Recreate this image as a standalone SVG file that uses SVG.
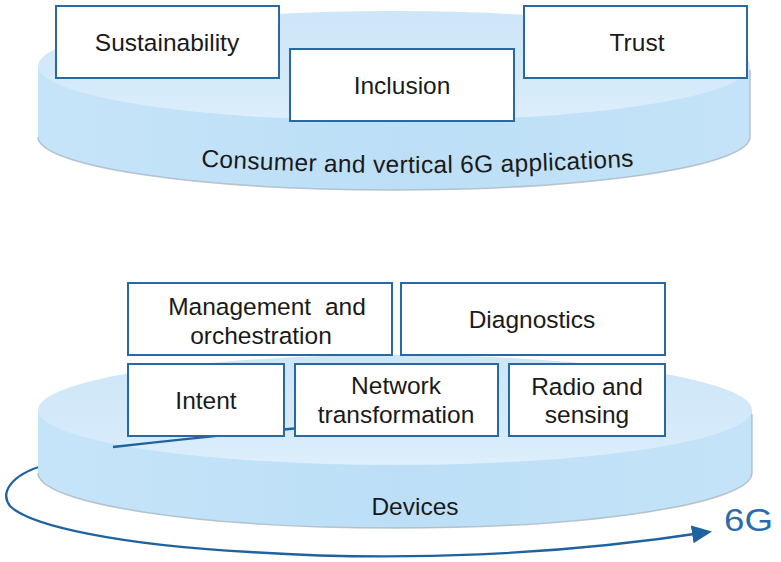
<svg xmlns="http://www.w3.org/2000/svg" width="781" height="562" viewBox="0 0 781 562">
<defs>
<style>
.box{fill:#ffffff;stroke:#2a68a1;stroke-width:2}
.t{font-family:"Liberation Sans",Arial,sans-serif;font-size:24.5px;fill:#1a1a1a;text-anchor:middle}
.side{fill:url(#sideG)}
.face{fill:url(#faceG)}
.rim{fill:none;stroke:#a8b6c2;stroke-width:1.5;opacity:0.8}
.conn{fill:none;stroke:#1f62a0;stroke-width:2.3}
</style>
<linearGradient id="faceG" x1="0" y1="0" x2="0" y2="1">
<stop offset="0" stop-color="#cde6f8"/>
<stop offset="0.7" stop-color="#d5eafa"/>
<stop offset="1" stop-color="#deeffc"/>
</linearGradient>
<linearGradient id="sideG" x1="0" y1="0" x2="1" y2="0">
<stop offset="0" stop-color="#c6e4f9"/>
<stop offset="0.5" stop-color="#bcdff7"/>
<stop offset="1" stop-color="#c4e3f8"/>
</linearGradient>
<marker id="ah" markerUnits="userSpaceOnUse" markerWidth="22" markerHeight="20" refX="16" refY="9" orient="auto">
<path d="M0,0 L20,9 L0,18 Z" fill="#1f62a0"/>
</marker>
<path id="arcLabel" d="M195,166 Q416,180 640,166"/>
</defs>

<g id="connectors">
<path class="conn" d="M45,465 C10,475 0,493 10,506 C30,526 120,545 250,552 C400,562 560,555 708,532" marker-end="url(#ah)"/>
</g>

<g id="disc-top">
<path class="side" d="M38,66 L38,137 A356,53 0 0 0 750,137 L750,66 Z"/>
<path class="rim" d="M38,137 A356,53 0 0 0 750,137 L750,70"/>
<ellipse class="face" cx="394" cy="66" rx="356" ry="55"/>
<text class="t" textLength="433" lengthAdjust="spacing"><textPath href="#arcLabel" startOffset="50%">Consumer and vertical 6G applications</textPath></text>
</g>

<g id="disc-bottom">
<path class="side" d="M38,410 L38,473 A357,55 0 0 0 752,473 L752,410 Z"/>
<path class="rim" d="M38,473 A357,55 0 0 0 752,473 L752,414"/>
<ellipse class="face" cx="395" cy="410" rx="357" ry="55"/>
<text class="t" x="415" y="515">Devices</text>
</g>

<g id="connector-inner">
<path class="conn" d="M113,447 Q200,437 300,428"/>
</g>

<g id="sustainability">
<rect class="box" x="56" y="6" width="223" height="72"/>
<text class="t" x="167" y="51">Sustainability</text>
</g>
<g id="inclusion">
<rect class="box" x="290" y="49" width="224" height="72"/>
<text class="t" x="402" y="94">Inclusion</text>
</g>
<g id="trust">
<rect class="box" x="524" y="6" width="223" height="72"/>
<text class="t" x="637" y="51">Trust</text>
</g>

<g id="management">
<rect class="box" x="128" y="283" width="264" height="72"/>
<text class="t" x="267" y="315" word-spacing="7">Management and</text>
<text class="t" x="261" y="344">orchestration</text>
</g>
<g id="diagnostics">
<rect class="box" x="401" y="283" width="264" height="72"/>
<text class="t" x="532" y="328">Diagnostics</text>
</g>
<g id="intent">
<rect class="box" x="128" y="364" width="156" height="72"/>
<text class="t" x="206" y="409">Intent</text>
</g>
<g id="network">
<rect class="box" x="295" y="364" width="203" height="72"/>
<text class="t" x="396" y="394">Network</text>
<text class="t" x="396" y="423">transformation</text>
</g>
<g id="radio">
<rect class="box" x="509" y="364" width="156" height="72"/>
<text class="t" x="587" y="395">Radio and</text>
<text class="t" x="587" y="423">sensing</text>
</g>

<g id="label-6g">
<text x="724" y="531" font-family="'Liberation Sans',Arial,sans-serif" font-size="31" fill="#2a6cab" textLength="49" lengthAdjust="spacingAndGlyphs">6G</text>
</g>
</svg>
